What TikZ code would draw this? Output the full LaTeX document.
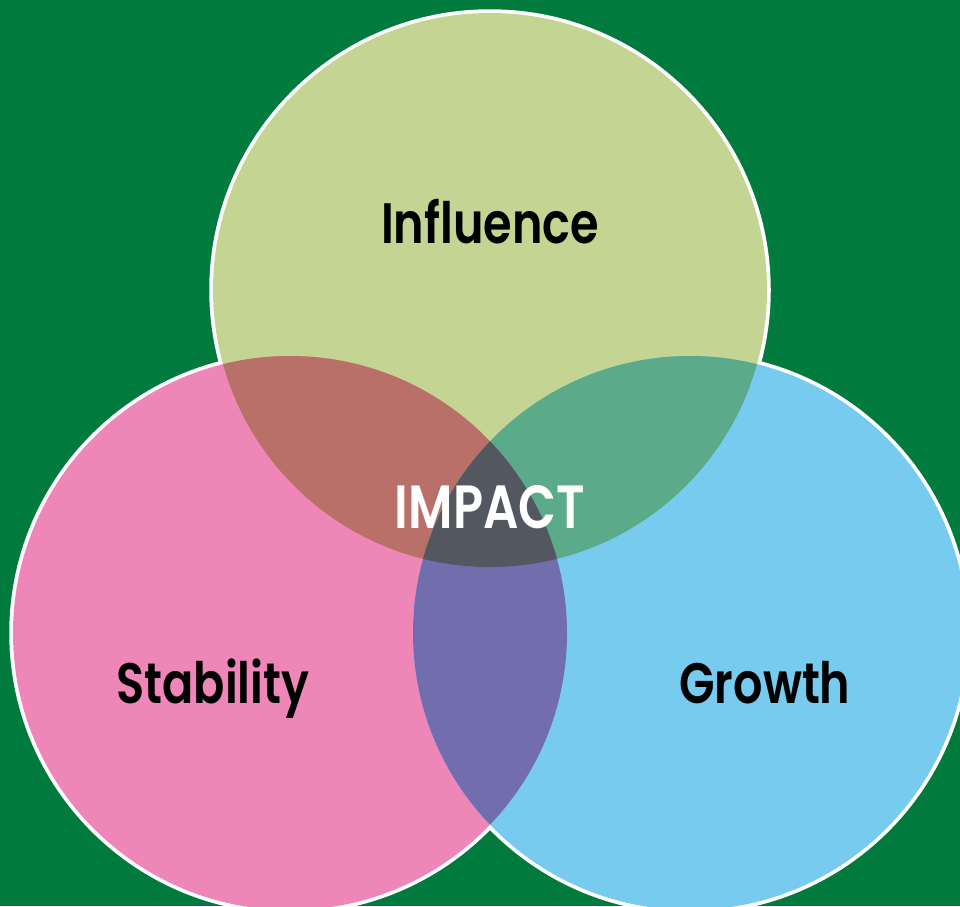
\documentclass[tikz,border=0pt]{standalone}
\usepackage{fontspec}
\usepackage{tikz}
\usetikzlibrary{positioning}
\newfontfamily\vennfont{Poppins SemiBold}[FakeStretch=0.81]
\definecolor{colorBack}{HTML}{007A3D}
\definecolor{colorInfluence}{HTML}{C4D492}
\definecolor{colorStability}{HTML}{EE87B8}
\definecolor{colorGrowth}{HTML}{77CBEF}
\definecolor{colorInfStab}{HTML}{B87068}
\definecolor{colorInfGrow}{HTML}{5BAA89}
\definecolor{colorStabGrow}{HTML}{726EAE}
\definecolor{colorImpact}{HTML}{535760}
\tikzset{
    vennlabel/.style={font=\vennfont\fontsize{57}{57}\selectfont, anchor=base},
}

\begin{document}
\begin{tikzpicture}[x=1pt,y=-1pt]
        \useasboundingbox (0,0) rectangle (960,906);
        \clip (0,0) rectangle (960,906);
        \fill[colorBack] (0,0) rectangle (960,906);
        \coordinate  (inf) at (490,290);
        \coordinate  (stab) at (290,633);
        \coordinate  (grow) at (690,633);
        % outer white rim
        \draw[white, line width=7.5pt] (inf) circle[radius=277] (stab) circle[radius=277] (grow) circle[radius=277];
        \fill[colorInfluence] (inf) circle[radius=277];
        \fill[colorStability] (stab) circle[radius=277];
        \fill[colorGrowth] (grow) circle[radius=277];
        % overlaps
        \begin{scope}
            \clip (inf) circle[radius=277];
            \fill[colorInfStab] (stab) circle[radius=277];
            \fill[colorInfGrow] (grow) circle[radius=277];
        \end{scope}
        \begin{scope}
            \clip (stab) circle[radius=277];
            \fill[colorStabGrow] (grow) circle[radius=277];
        \end{scope}
        \begin{scope}
            \clip (inf) circle[radius=277];
            \clip (stab) circle[radius=277];
            \fill[colorImpact] (grow) circle[radius=277];
        \end{scope}
        \node[vennlabel] (influence) at (490,243) {Influence};
        \node[vennlabel, white, font=\vennfont\fontsize{61}{61}\selectfont] (impact) at (490,528) {IMPACT};
        \node[vennlabel] (stability) at (213,703) {Stability};
        \node[vennlabel] (growth) at (765,703) {Growth};
    \end{tikzpicture}
\end{document}
